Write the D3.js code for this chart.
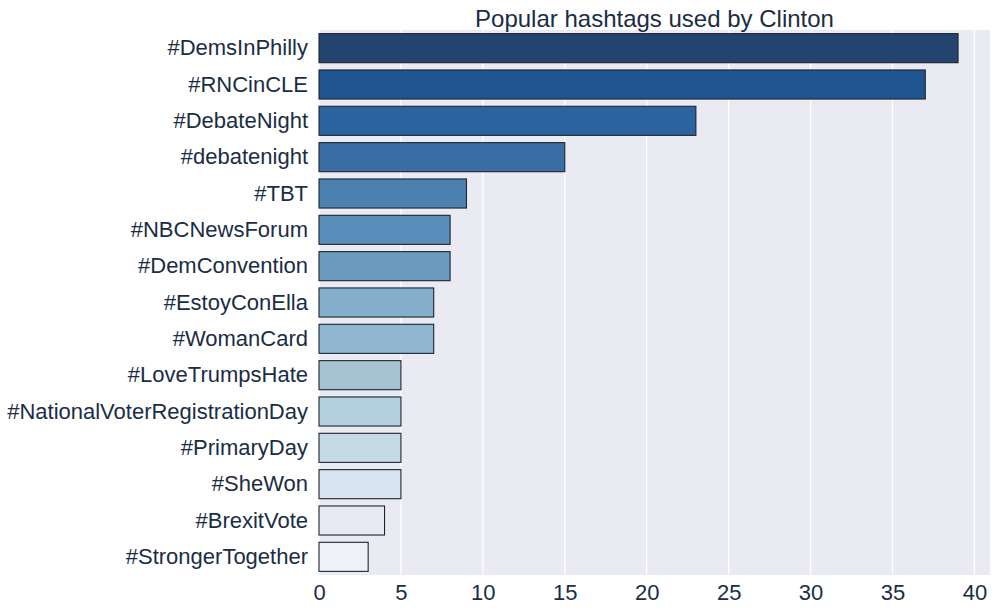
<!DOCTYPE html>
<html><head><meta charset="utf-8">
<script src="https://cdn.jsdelivr.net/npm/d3@7"></script>
<style>body{margin:0;background:#fff;} svg{display:block;}</style>
</head><body>
<svg id="c" width="1001" height="611"></svg>
<script>
const categories = ["#DemsInPhilly","#RNCinCLE","#DebateNight","#debatenight","#TBT","#NBCNewsForum","#DemConvention","#EstoyConElla","#WomanCard","#LoveTrumpsHate","#NationalVoterRegistrationDay","#PrimaryDay","#SheWon","#BrexitVote","#StrongerTogether"];
const counts = [39,37,23,15,9,8,8,7,7,5,5,5,5,4,3];
const xTicks = [0,5,10,15,20,25,30,35,40];
const title = "Popular hashtags used by Clinton";
const palette = ["#22446e","#1f5591","#2b62a0","#3a6ea5","#4b80b0","#5b8fbb","#6a9bbf","#85aecd","#90b5d1","#a7c3d3","#b4cfdf","#c6d9e6","#d7e3ee","#e6e9f2","#eff1f7"];

const svg = d3.select("#c");
const m = {left:319, right:990, top:30, bottom:575};
const x = d3.scaleLinear().domain([0, d3.max(counts)*1.05]).range([m.left, m.right]);
const y = d3.scaleBand().domain(categories).range([m.top, m.bottom]).paddingInner(0.2).paddingOuter(0.1);
const font = "'Liberation Sans', Arial, sans-serif";
const textColor = "#1a2d45";

svg.append("rect").attr("x", m.left).attr("y", m.top).attr("width", m.right-m.left).attr("height", m.bottom-m.top).attr("fill", "#eaeaf2");

svg.append("g").selectAll("line").data(xTicks).join("line")
  .attr("x1", d=>x(d)).attr("x2", d=>x(d)).attr("y1", m.top).attr("y2", m.bottom)
  .attr("stroke", "#fff").attr("stroke-width", 1.3);

svg.append("g").selectAll("rect").data(categories).join("rect")
  .attr("x", x(0)).attr("y", d=>y(d))
  .attr("width", (d,i)=>x(counts[i])-x(0)).attr("height", y.bandwidth())
  .attr("fill", (d,i)=>palette[i]).attr("stroke", "#1e2430").attr("stroke-width", 1.1);

const xAxis = d3.axisBottom(x).tickValues(xTicks).tickSize(0).tickPadding(9);
const gx = svg.append("g").attr("transform", `translate(0,${m.bottom})`).call(xAxis);
gx.select(".domain").remove();
gx.selectAll("text").attr("font-family", font).attr("font-size", 22).attr("fill", textColor);

const yAxis = d3.axisLeft(y).tickSize(0).tickPadding(11);
const gy = svg.append("g").attr("transform", `translate(${m.left},0)`).call(yAxis);
gy.select(".domain").remove();
gy.selectAll("text").attr("font-family", font).attr("font-size", 22).attr("fill", textColor);

svg.append("text").attr("x", (m.left+m.right)/2).attr("y", 27).attr("text-anchor", "middle")
  .attr("font-family", font).attr("font-size", 24).attr("fill", textColor).text(title);
</script>
</body></html>
